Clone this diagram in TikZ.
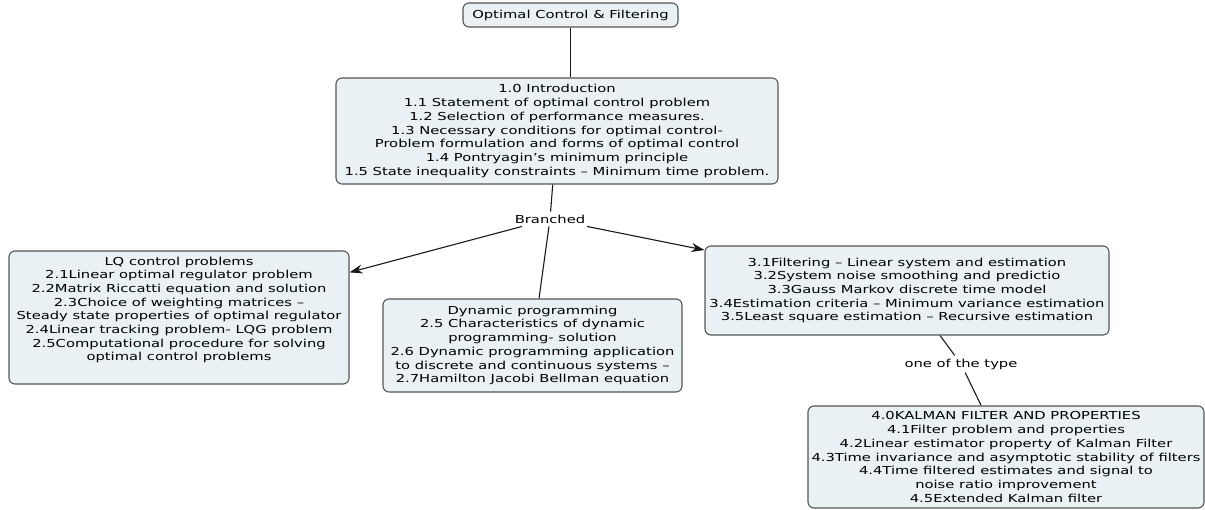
\documentclass[tikz,border=0pt]{standalone}
\usepackage{fontspec}
\setmainfont{DejaVu Sans}[FakeStretch=1.34]
\usetikzlibrary{arrows.meta}
\definecolor{boxfill}{RGB}{234,241,244}
\definecolor{boxline}{RGB}{85,85,85}
\definecolor{linkline}{RGB}{25,25,25}
\tikzset{
  mapbox/.style={draw=boxline, line width=1.1pt, fill=boxfill, rounded corners=6pt,
    inner sep=0pt, align=center},
  maptext/.style={align=center, inner sep=0pt},
  linkword/.style={inner sep=3pt, fill=white},
  link/.style={draw=linkline, line width=1.1pt},
  arrowlink/.style={link, -{Stealth[length=13pt,width=9pt]}},
}
\begin{document}
\begin{tikzpicture}[x=1pt, y=-1pt, font=\fontsize{11}{13.7}\selectfont]
\useasboundingbox (0,0) rectangle (1205,510);

% concept boxes
\node[mapbox, minimum width=215pt, minimum height=24pt] (top) at (570.5,15) {Optimal Control \& Filtering};

\node[mapbox, minimum width=442pt, minimum height=106pt] (intro) at (557,131) {1.0 Introduction\\
1.1 Statement of optimal control problem\\
1.2 Selection of performance measures.\\
1.3 Necessary conditions for optimal control-\\
Problem formulation and forms of optimal control\\
1.4 Pontryagin’s minimum principle\\
1.5 State inequality constraints – Minimum time problem.};

\node[mapbox, minimum width=340pt, minimum height=133pt] (lq) at (179,317.5) {};
\node[maptext] (lqtext) at (179,310) {LQ control problems\\
2.1Linear optimal regulator problem\\
2.2Matrix Riccatti equation and solution\\
2.3Choice of weighting matrices –\\
Steady state properties of optimal regulator\\
2.4Linear tracking problem- LQG problem\\
2.5Computational procedure for solving\\
optimal control problems};

\node[mapbox, minimum width=299pt, minimum height=93pt] (dyn) at (532.5,345.5) {Dynamic programming\\
2.5 Characteristics of dynamic\\
programming- solution\\
2.6 Dynamic programming application\\
to discrete and continuous systems –\\
2.7Hamilton Jacobi Bellman equation};

\node[mapbox, minimum width=404pt, minimum height=89pt] (filt) at (907,290.5) {3.1Filtering – Linear system and estimation\\
3.2System noise smoothing and predictio\\
3.3Gauss Markov discrete time model\\
3.4Estimation criteria – Minimum variance estimation\\
3.5Least square estimation – Recursive estimation};

\node[mapbox, minimum width=396pt, minimum height=102pt] (kal) at (1006,457) {4.0KALMAN FILTER AND PROPERTIES\\
4.1Filter problem and properties\\
4.2Linear estimator property of Kalman Filter\\
4.3Time invariance and asymptotic stability of filters\\
4.4Time filtered estimates and signal to\\
noise ratio improvement\\
4.5Extended Kalman filter};

% linking phrases
\node[linkword] (branch) at (550,219) {Branched};
\node[linkword] (type) at (961,364) {one of the type};

% connectors
\draw[link] (top) -- (top |- intro.north);
\draw[link] (intro) -- (branch);
\draw[arrowlink] (branch) -- (lq);
\draw[link] (branch) -- (dyn);
\draw[arrowlink] (branch) -- (filt);
\draw[link] (filt) -- (type);
\draw[link] (type) -- (kal);
\end{tikzpicture}
\end{document}
